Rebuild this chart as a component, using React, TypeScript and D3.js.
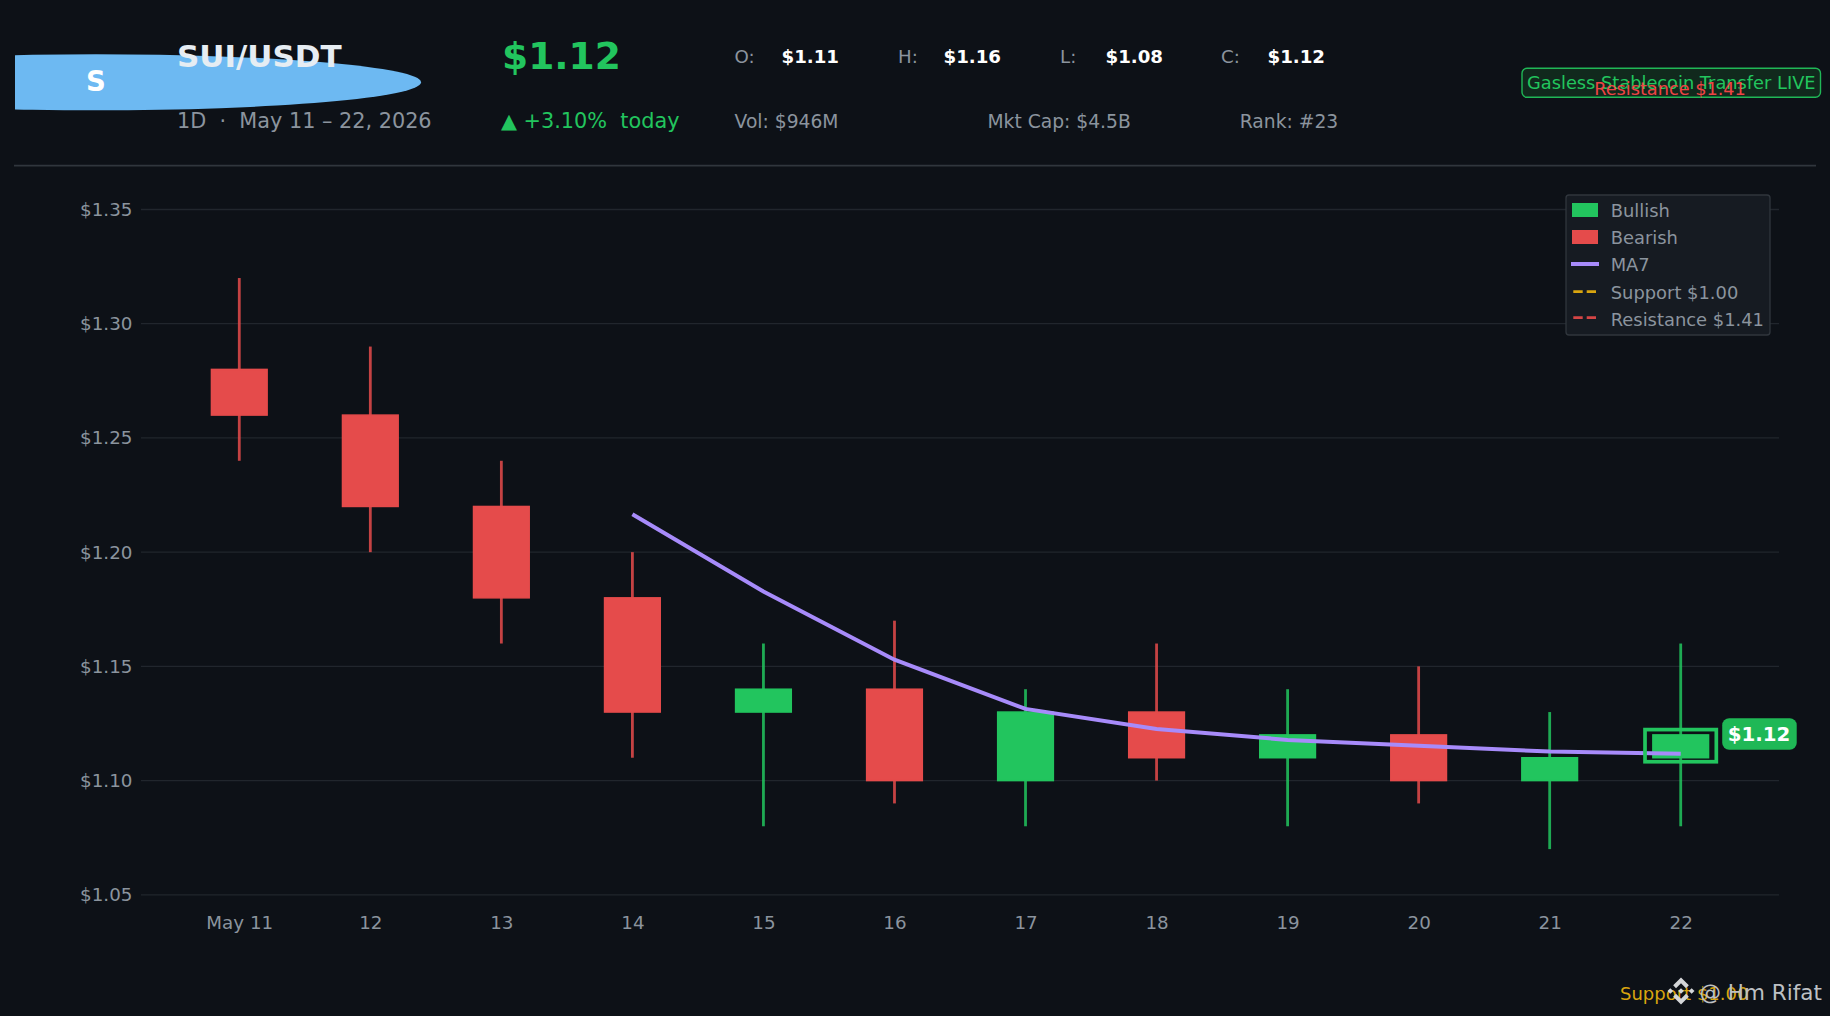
import React, { useEffect, useRef } from 'react';
import * as d3 from 'd3';

const dayLabels = ['May 11', '12', '13', '14', '15', '16', '17', '18', '19', '20', '21', '22'];
const openValues = [1.28, 1.26, 1.22, 1.18, 1.13, 1.14, 1.10, 1.13, 1.11, 1.12, 1.10, 1.11];
const closeValues = [1.26, 1.22, 1.18, 1.13, 1.14, 1.10, 1.13, 1.11, 1.12, 1.10, 1.11, 1.12];
const highValues = [1.32, 1.29, 1.24, 1.20, 1.16, 1.17, 1.14, 1.16, 1.14, 1.15, 1.13, 1.16];
const lowValues = [1.24, 1.20, 1.16, 1.11, 1.08, 1.09, 1.08, 1.10, 1.08, 1.09, 1.07, 1.08];
const ma7Values = [null, null, null, 1.2166, 1.1828, 1.1529, 1.1314, 1.1226, 1.1178, 1.1152, 1.1127, 1.1117];
const priceTicks = [1.05, 1.10, 1.15, 1.20, 1.25, 1.30, 1.35];

const ohlcStats = [
  { label: 'O:', value: '$1.11', x: 734.6, vx: 781.5 },
  { label: 'H:', value: '$1.16', x: 898, vx: 943.5 },
  { label: 'L:', value: '$1.08', x: 1060, vx: 1105.5 },
  { label: 'C:', value: '$1.12', x: 1221, vx: 1267.5 },
];
const metaStats = [
  { text: 'Vol: $946M', x: 734.6 },
  { text: 'Mkt Cap: $4.5B', x: 987.5 },
  { text: 'Rank: #23', x: 1239.8 },
];

const BG = '#0d1117';
const GREEN = '#22c55e';
const RED = '#e54b4b';
const PURPLE = '#a78bfa';
const AMBER = '#d9a50f';
const MUTED = '#8b949e';
const GRID = '#21262d';
const FONT = '"DejaVu Sans", sans-serif';

export default function App() {
  const svgRef = useRef<SVGSVGElement>(null);

  useEffect(() => {
    if (!svgRef.current) return;
    const svg = d3.select(svgRef.current);
    svg.selectAll('*').remove();

    const x = d3.scaleLinear().domain([-0.75, 11.75]).range([141, 1779]);
    const y = d3.scaleLinear().domain([1.05, 1.35]).range([894.8, 209.5]);
    const bodyW = x(0.425) - x(0);

    const text = (
      content: string, tx: number, ty: number, size: number, fill: string,
      weight = 'normal', anchor = 'start'
    ) => svg.append('text')
      .attr('x', tx).attr('y', ty)
      .attr('fill', fill)
      .attr('text-anchor', anchor)
      .style('font-size', `${size}px`)
      .style('font-weight', weight)
      .style('white-space', 'pre')
      .text(content);

    svg.append('rect').attr('width', 1830).attr('height', 1016).attr('fill', BG);

    // Header
    svg.append('clipPath').attr('id', 'logo-clip')
      .append('rect').attr('x', 15).attr('y', 0).attr('width', 500).attr('height', 170);
    svg.append('ellipse')
      .attr('cx', 96).attr('cy', 82.3).attr('rx', 325).attr('ry', 28)
      .attr('fill', '#6db9f2')
      .attr('clip-path', 'url(#logo-clip)');
    text('S', 96, 91, 27.5, '#ffffff', 'bold', 'middle');
    text('SUI/USDT', 177, 67, 31, '#e6edf3', 'bold');
    text('1D  ·  May 11 – 22, 2026', 177, 128, 20.8, MUTED);
    text('$1.12', 502, 69, 37.6, GREEN, 'bold');
    text('▲ +3.10%  today', 501, 128, 20.8, GREEN);

    ohlcStats.forEach(d => {
      text(d.label, d.x, 63, 18.2, MUTED);
      text(d.value, d.vx, 63, 18.2, '#ffffff', 'bold');
    });
    metaStats.forEach(d => text(d.text, d.x, 127.5, 18.7, MUTED));

    svg.append('rect')
      .attr('x', 1522).attr('y', 68.3).attr('width', 298.5).attr('height', 29).attr('rx', 5)
      .attr('fill', '#11291d').attr('stroke', '#20b757').attr('stroke-width', 1.4);
    text('Gasless Stablecoin Transfer LIVE', 1527, 89, 17.8, GREEN);
    text('Resistance $1.41', 1670, 95, 17.7, '#ef4444', 'normal', 'middle');

    svg.append('line')
      .attr('x1', 14).attr('x2', 1816).attr('y1', 165.7).attr('y2', 165.7)
      .attr('stroke', '#30363d').attr('stroke-width', 1.8);

    // Grid lines
    svg.append('g').selectAll('line').data(priceTicks).enter().append('line')
      .attr('x1', x.range()[0]).attr('x2', x.range()[1])
      .attr('y1', d => y(d)).attr('y2', d => y(d))
      .attr('stroke', GRID).attr('stroke-width', 1.3);

    // Axes
    const yAxis = svg.append('g')
      .attr('transform', `translate(${x.range()[0]},0)`)
      .call(d3.axisLeft(y).tickValues(priceTicks).tickSize(0).tickPadding(8.6)
        .tickFormat(d => `$${(d as number).toFixed(2)}`));
    const xAxis = svg.append('g')
      .attr('transform', `translate(0,${y.range()[0]})`)
      .call(d3.axisBottom(x).tickValues(d3.range(dayLabels.length)).tickSize(0).tickPadding(20.8)
        .tickFormat((_, i) => dayLabels[i]));
    [yAxis, xAxis].forEach(axis => {
      axis.select('.domain').remove();
      axis.selectAll('text')
        .attr('fill', MUTED)
        .style('font-size', '18.3px')
        .style('font-family', FONT);
    });

    // Candles
    const colorAt = (i: number) => (closeValues[i] >= openValues[i] ? GREEN : RED);
    const days = d3.range(dayLabels.length);

    svg.append('g').selectAll('line').data(days).enter().append('line')
      .attr('x1', i => x(i)).attr('x2', i => x(i))
      .attr('y1', i => y(highValues[i])).attr('y2', i => y(lowValues[i]))
      .attr('stroke', colorAt)
      .attr('stroke-opacity', 0.85)
      .attr('stroke-width', 2.8);

    svg.append('g').selectAll('rect').data(days).enter().append('rect')
      .attr('x', i => x(i) - bodyW / 2)
      .attr('y', i => y(Math.max(openValues[i], closeValues[i])))
      .attr('width', bodyW)
      .attr('height', i => Math.abs(y(openValues[i]) - y(closeValues[i])))
      .attr('fill', colorAt)
      .attr('stroke', colorAt)
      .attr('stroke-width', 1.5);

    // MA7
    const maLine = d3.line<number | null>()
      .defined(d => d !== null)
      .x((_, i) => x(i))
      .y(d => y(d as number));
    svg.append('path')
      .attr('d', maLine(ma7Values))
      .attr('fill', 'none')
      .attr('stroke', PURPLE)
      .attr('stroke-width', 4);

    // Latest candle highlight
    const last = dayLabels.length - 1;
    const hiTop = y(closeValues[last]) - 5.3;
    const hiBottom = y(openValues[last]) + 4;
    svg.append('rect')
      .attr('x', x(last) - 35.7).attr('y', hiTop)
      .attr('width', 71.3).attr('height', hiBottom - hiTop)
      .attr('fill', 'none').attr('stroke', GREEN).attr('stroke-width', 3.7);

    svg.append('rect')
      .attr('x', x(last) + 41.5).attr('y', 718.3)
      .attr('width', 74.5).attr('height', 31.4).attr('rx', 7)
      .attr('fill', '#1fb856');
    text(`$${closeValues[last].toFixed(2)}`, x(last) + 78.3, 741.3, 19.8, '#ffffff', 'bold', 'middle');

    // Legend
    svg.append('rect')
      .attr('x', 1566).attr('y', 195).attr('width', 204).attr('height', 140).attr('rx', 3)
      .attr('fill', '#161b22').attr('stroke', '#30363d').attr('stroke-width', 1.3);
    svg.append('rect').attr('x', 1572).attr('y', 203).attr('width', 26).attr('height', 14).attr('fill', GREEN);
    svg.append('rect').attr('x', 1572).attr('y', 230).attr('width', 26).attr('height', 14).attr('fill', RED);
    svg.append('line').attr('x1', 1571).attr('x2', 1599).attr('y1', 264).attr('y2', 264)
      .attr('stroke', PURPLE).attr('stroke-width', 4);
    [[291.6, AMBER], [317.6, '#d44545']].forEach(([ly, c]) => {
      svg.append('line').attr('x1', 1573.3).attr('x2', 1596).attr('y1', ly).attr('y2', ly)
        .attr('stroke', c as string).attr('stroke-width', 2.6).attr('stroke-dasharray', '9.4 4');
    });
    text('Bullish', 1610.7, 217.3, 17.9, MUTED);
    text('Bearish', 1610.7, 244.3, 17.9, MUTED);
    text('MA7', 1610.7, 271.3, 17.9, MUTED);
    text('Support $1.00', 1610.7, 298.6, 17.9, MUTED);
    text('Resistance $1.41', 1610.7, 325.6, 17.9, MUTED);

    // Footer
    text('Support $1.00', 1620, 999.5, 18, AMBER);
    const logo = svg.append('g')
      .attr('transform', 'translate(1681,991) scale(13.5)')
      .attr('fill', '#d4d6d8');
    const chevron = 'M0,-1 L0.58,-0.42 L0.37,-0.21 L0,-0.58 L-0.37,-0.21 L-0.58,-0.42 Z';
    logo.append('path').attr('d', chevron);
    logo.append('path').attr('d', chevron).attr('transform', 'scale(1,-1)');
    [-0.79, 0, 0.79].forEach(cx => {
      logo.append('path').attr('d', 'M0,-0.21 L0.21,0 L0,0.21 L-0.21,0 Z').attr('transform', `translate(${cx},0)`);
    });
    text('@ Hm Rifat', 1699.5, 999.8, 21.5, '#bdc0c4');
  }, []);

  return (
    <svg
      ref={svgRef}
      width={1830}
      height={1016}
      style={{ position: 'absolute', left: 0, top: 0, display: 'block', fontFamily: FONT }}
    />
  );
}
